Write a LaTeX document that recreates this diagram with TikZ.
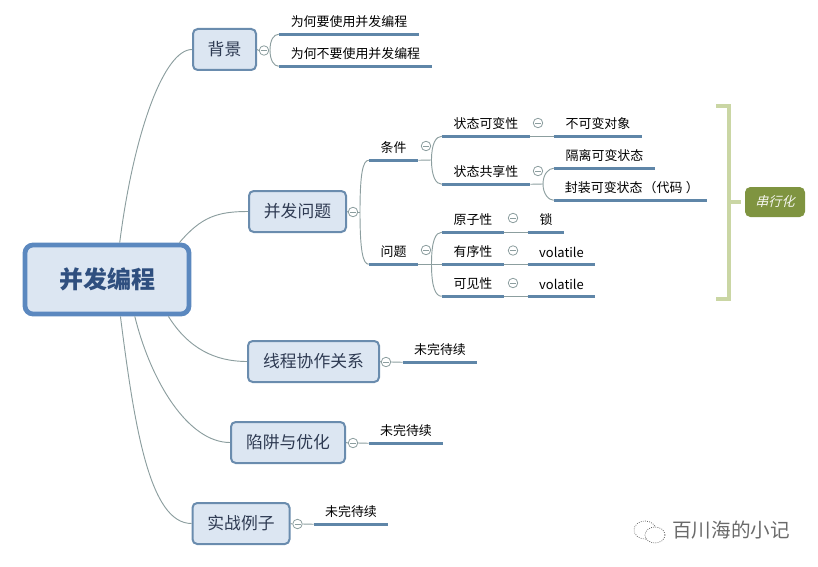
\documentclass[tikz,border=0pt]{standalone}
\usepackage{fontspec}
\setmainfont{Noto Sans CJK SC}
\newfontfamily\slantcjk[FakeSlant=0.25]{Noto Sans CJK SC}
\usetikzlibrary{calc}
\definecolor{boxfill}{HTML}{DCE6F2}
\definecolor{boxline}{HTML}{6A8CAE}
\definecolor{rootline}{HTML}{5B88BF}
\definecolor{roottext}{HTML}{2F4F7F}
\definecolor{boxtext}{HTML}{2E3A52}
\definecolor{leafline}{HTML}{5F86A8}
\definecolor{thin}{HTML}{8C9E9F}
\definecolor{brace}{HTML}{CAD6A4}
\definecolor{tagfill}{HTML}{7F9440}
\definecolor{mark}{HTML}{6A6A6A}
\newcommand{\lowered}[1]{\raisebox{-0.9pt}{#1}}
\tikzset{
  x=0.75pt, y=-0.75pt,
  rootbox/.style={draw=rootline, fill=boxfill, line width=3.6pt, rounded corners=6pt, inner sep=0pt,
    text=roottext, font=\bfseries\fontsize{18}{20}\selectfont, minimum width=164*0.75pt, minimum height=69*0.75pt},
  topicbox/.style={draw=boxline, fill=boxfill, line width=1.5pt, rounded corners=3.5pt, inner sep=0pt,
    text=boxtext, font=\fontsize{12.6}{14}\selectfont, minimum height=41*0.75pt},
  leafnode/.style={inner sep=0pt, minimum height=24*0.75pt, text=black, font=\fontsize{9.7}{11}\selectfont},
  uline/.style={draw=leafline, line width=2.2pt},
  wire/.style={draw=thin, line width=0.7pt},
  toggle/.style={circle, draw=thin, fill=white, line width=0.6pt, minimum size=9.5*0.75pt, inner sep=0pt,
    path picture={\draw[thin, line width=0.6pt] ($(path picture bounding box.center)+(-3,0)$) -- ($(path picture bounding box.center)+(3,0)$);}},
  tagbox/.style={fill=tagfill, rounded corners=4pt, inner sep=0pt, text=white!92!tagfill,
    font=\slantcjk\fontsize{9.8}{11}\selectfont, minimum width=60*0.75pt, minimum height=30*0.75pt},
  bracket/.style={draw=brace, line width=3pt},
}
\newcommand{\leaf}[5]{% name, left x, right x, line y, text
  \node[leafnode, minimum width={(#3-#2)*0.75pt}] (#1) at ({(#2+#3)/2},{#4-12}) {#5};
  \draw[uline] (#1.south west) -- (#1.south east);
}
\begin{document}
\begin{tikzpicture}
\useasboundingbox (0,0) rectangle (818,567);

% main boxes
\node[rootbox] (root) at (107,279.5) {\raisebox{-1.2pt}{并发编程}};
\node[topicbox, minimum width=63*0.75pt] (bj) at (224.5,49.5) {\lowered{背景}};
\node[topicbox, minimum width=97*0.75pt] (wt) at (297.5,211.5) {\lowered{并发问题}};
\node[topicbox, minimum width=131*0.75pt] (xc) at (313.5,361.5) {\lowered{线程协作关系}};
\node[topicbox, minimum width=114*0.75pt] (xj) at (288,442.5) {\lowered{陷阱与优化}};
\node[topicbox, minimum width=97*0.75pt] (sz) at (241,523.5) {\lowered{实战例子}};

% leaves
\leaf{why}{279}{419}{34}{为何要使用并发编程}
\leaf{whynot}{279}{432}{66}{为何不要使用并发编程}
\leaf{tj}{369}{418}{160}{条件}
\leaf{wtl}{369}{418}{264}{问题}
\leaf{kb}{442}{530}{136}{状态可变性}
\leaf{gx}{442}{530}{184}{状态共享性}
\leaf{bk}{554}{642}{136}{不可变对象}
\leaf{gl}{554}{655}{168}{隔离可变状态}
\leaf{fz}{554}{707}{200}{\kern2pt 封装可变状态\kern0.8pt（代码\kern2.5pt）}
\leaf{yz}{442}{504}{232}{原子性}
\leaf{yx}{442}{504}{264}{有序性}
\leaf{kj}{442}{504}{296}{可见性}
\leaf{suo}{528}{564}{232}{锁}
\leaf{vo}{528}{595}{264}{volatile}
\leaf{vt}{528}{595}{296}{volatile}
\leaf{w1}{403}{477}{362}{未完待续}
\leaf{w2}{369}{443}{443}{未完待续}
\leaf{w3}{314}{388}{524}{未完待续}

% forks
\coordinate (f0) at (270,50);
\coordinate (f1) at (360,212);
\coordinate (f2) at (431.5,160);
\coordinate (f3) at (431.5,264);
\coordinate (f4) at (543,184);

% toggles
\node[toggle] (c0) at (264,50.5) {};
\node[toggle] (c1) at (353,212) {};
\node[toggle] (c2) at (426,146) {};
\node[toggle] (c3) at (426,250) {};
\node[toggle] (c4) at (538,123) {};
\node[toggle] (c5) at (538,171) {};
\node[toggle] (c6) at (513,218) {};
\node[toggle] (c7) at (513,250.5) {};
\node[toggle] (c8) at (513,283) {};
\node[toggle] (c9) at (386,362) {};
\node[toggle] (c10) at (353,443) {};
\node[toggle] (c11) at (297.5,524) {};

% root connectors
\draw[wire] (root.71) .. controls +(14,-110) and +(-28,0) .. (bj.west);
\draw[wire] (root.27) .. controls +(22,-26) and +(-30,0) .. (wt.west);
\draw[wire] (root.-31) .. controls +(20,32) and +(-32,0) .. (xc.west);
\draw[wire] (root.-53) .. controls +(16,65) and +(-42,0) .. (xj.west);
\draw[wire] (root.-70) .. controls +(14,110) and +(-42,0) .. (sz.west);

% branch connectors
\draw[wire] (bj.east) -- (c0.west);
\draw[wire] (f0) .. controls +(0,-10) and +(-5,0) .. (why.south west);
\draw[wire] (f0) .. controls +(0,10) and +(-5,0) .. (whynot.south west);

\draw[wire] (wt.east) -- (c1.west);
\draw[wire] (c1.east) -- (f1);
\draw[wire] (f1) .. controls +(0,-38) and +(-6,0) .. (tj.south west);
\draw[wire] (f1) .. controls +(0,38) and +(-6,0) .. (wtl.south west);

\draw[wire] (tj.south east) -- (f2);
\draw[wire] (f2) .. controls +(0,-16) and +(-6,0) .. (kb.south west);
\draw[wire] (f2) .. controls +(0,16) and +(-6,0) .. (gx.south west);

\draw[wire] (wtl.south east) -- (yx.south west);
\draw[wire] (f3) .. controls +(0,-24) and +(-6,0) .. (yz.south west);
\draw[wire] (f3) .. controls +(0,24) and +(-6,0) .. (kj.south west);

\draw[wire] (kb.south east) -- (bk.south west);
\draw[wire] (gx.south east) -- (f4);
\draw[wire] (f4) .. controls +(0,-10) and +(-5,0) .. (gl.south west);
\draw[wire] (f4) .. controls +(0,10) and +(-5,0) .. (fz.south west);

\draw[wire] (yz.south east) -- (suo.south west);
\draw[wire] (yx.south east) -- (vo.south west);
\draw[wire] (kj.south east) -- (vt.south west);

\draw[wire] (xc.east) -- (c9.west);
\draw[wire] (c9.east) -- (w1.south west);
\draw[wire] (xj.east) -- (c10.west);
\draw[wire] (c10.east) -- (w2.south west);
\draw[wire] (sz.east) -- (c11.west);
\draw[wire] (c11.east) -- (w3.south west);

% bracket and tag
\node[tagbox] (tag) at (775,202) {串行化};
\coordinate (bt) at (716,106);
\coordinate (bb) at (716,299);
\coordinate (bm) at (729,202);
\draw[bracket] (bt) -| (bm) |- (bb);
\draw[bracket] (bm) -- (tag.west -| 741,0);

% watermark
\begin{scope}[draw=mark, line width=0.6pt]
  \draw[densely dotted] (645,530) ellipse [x radius=11, y radius=9];
  \draw[densely dotted, fill=white] (655,535) ellipse [x radius=10, y radius=8];
\end{scope}
\node[inner sep=0pt, text=mark, font=\fontsize{14.7}{16}\selectfont] (wm) at (731,530) {百川海的小记};
\end{tikzpicture}
\end{document}
